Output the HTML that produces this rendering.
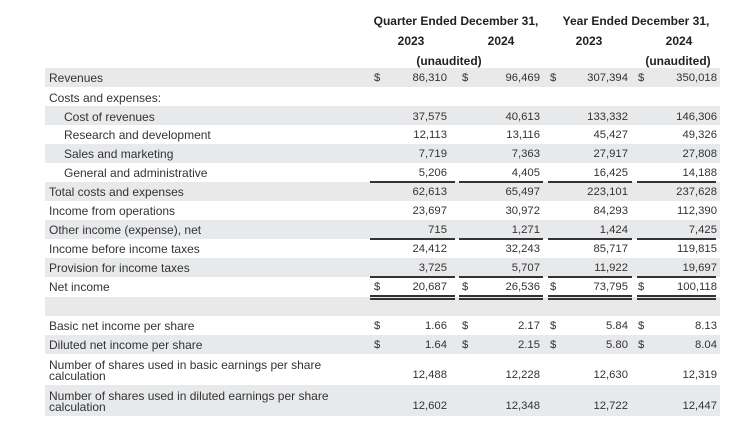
<!DOCTYPE html>
<html><head><style>
body{margin:0;width:755px;height:427px;background:#fff;font-family:"Liberation Sans",sans-serif;color:#333;position:relative;overflow:hidden}
.s{position:absolute;left:45px;width:675px;background:#e8e9eb}
.t{position:absolute;font-size:12px;line-height:13px;white-space:nowrap}
.h{position:absolute;font-size:12px;font-weight:bold;color:#222;white-space:nowrap;transform:translateX(-50%)}
.n{position:absolute;font-size:11.3px;white-space:nowrap;text-align:right;width:80px}
.d{position:absolute;font-size:11.3px}
.u{position:absolute;height:2px;background:#333}
</style></head><body>
<div class="s" style="top:68px;height:19px"></div>
<div class="s" style="top:106px;height:19px"></div>
<div class="s" style="top:144px;height:19px"></div>
<div class="s" style="top:182px;height:19px"></div>
<div class="s" style="top:220px;height:19px"></div>
<div class="s" style="top:258px;height:19px"></div>
<div class="s" style="top:297px;height:19px"></div>
<div class="s" style="top:335px;height:19px"></div>
<div class="s" style="top:385px;height:31px"></div>

<div class="h" style="left:456px;top:14px">Quarter Ended December 31,</div>
<div class="h" style="left:636px;top:14px">Year Ended December 31,</div>
<div class="h" style="left:411px;top:34px">2023</div>
<div class="h" style="left:501px;top:34px">2024</div>
<div class="h" style="left:589px;top:34px">2023</div>
<div class="h" style="left:679px;top:34px">2024</div>
<div class="h" style="left:449px;top:54px">(unaudited)</div>
<div class="h" style="left:678px;top:54px">(unaudited)</div>

<div id="rows"></div>
<script>
var rows=[
[77,49,"Revenues",["86,310","96,469","307,394","350,018"],1],
[97,49,"Costs and expenses:",null],
[116,64,"Cost of revenues",["37,575","40,613","133,332","146,306"]],
[134,64,"Research and development",["12,113","13,116","45,427","49,326"]],
[153,64,"Sales and marketing",["7,719","7,363","27,917","27,808"]],
[172,64,"General and administrative",["5,206","4,405","16,425","14,188"]],
[191,49,"Total costs and expenses",["62,613","65,497","223,101","237,628"]],
[210,49,"Income from operations",["23,697","30,972","84,293","112,390"]],
[229,49,"Other income (expense), net",["715","1,271","1,424","7,425"]],
[248,49,"Income before income taxes",["24,412","32,243","85,717","119,815"]],
[267,49,"Provision for income taxes",["3,725","5,707","11,922","19,697"]],
[286,49,"Net income",["20,687","26,536","73,795","100,118"],1],
[325,49,"Basic net income per share",["1.66","2.17","5.84","8.13"],1],
[344,49,"Diluted net income per share",["1.64","2.15","5.80","8.04"],1],
[365,49,"Number of shares used in basic earnings per share<br>calculation",["12,488","12,228","12,630","12,319"],0,1],
[396,49,"Number of shares used in diluted earnings per share<br>calculation",["12,602","12,348","12,722","12,447"],0,1]
];
var R=[447,540,628,717],D=[374,462,550,638],h="";
rows.forEach(function(r){
 var y=r[0];var ty=r[5]?y-5:y-5;
 h+='<div class="t" style="left:'+r[1]+'px;top:'+ty+'px;line-height:'+(r[5]?'11px':'13px')+'">'+r[2]+'</div>';
 if(r[3]){var ny=r[5]?y+4:y-5;
  r[3].forEach(function(v,i){h+='<div class="n" style="left:'+(R[i]-80)+'px;top:'+ny+'px">'+v+'</div>';
   if(r[4])h+='<div class="d" style="left:'+D[i]+'px;top:'+ny+'px">$</div>';});}
});
var L=[[370,455],[459,543],[548,632],[637,716]];
[182,239,277].forEach(function(y){L.forEach(function(s){h+='<div class="u" style="left:'+s[0]+'px;width:'+(s[1]-s[0])+'px;top:'+(y-1)+'px"></div>';});});
L.forEach(function(s){h+='<div class="u" style="left:'+s[0]+'px;width:'+(s[1]-s[0])+'px;top:295px"></div><div class="u" style="left:'+s[0]+'px;width:'+(s[1]-s[0])+'px;top:298px"></div>';});
document.getElementById("rows").innerHTML=h;
</script>
</body></html>
